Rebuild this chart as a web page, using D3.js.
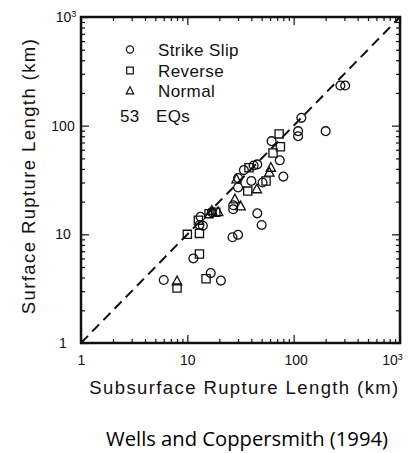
<!DOCTYPE html>
<html>
<head>
<meta charset="utf-8">
<script src="https://cdn.jsdelivr.net/npm/d3@7"></script>
<style>
  body { margin: 0; background: #fff; }
  svg { display: block; }
</style>
</head>
<body>
<svg id="chart" width="411" height="453"></svg>
<script>
// [subsurface km, surface km]
const strikeSlip = [
  [6, 3.8], [11.4, 6.0], [16.6, 4.4], [20.7, 3.75], [13, 12.2], [14, 12],
  [13.3, 14.5], [17, 16], [26.6, 9.4], [30, 9.9], [27, 18.5], [27, 17],
  [30, 27], [30, 33], [34, 39], [42, 43], [45.5, 44], [40, 31], [51, 30],
  [45.5, 15.6], [50, 12.2], [62, 72], [74, 48], [80, 34], [110, 89],
  [110, 80], [118, 118], [200, 89], [275, 234], [305, 234]
];
const reverse = [
  [8, 3.2], [15, 3.9], [13, 6.6], [10, 10], [13, 10.2], [12.7, 13.5],
  [16, 15.5], [18.5, 16], [37, 25], [55, 31], [64, 56], [75, 64], [73, 84],
  [38, 41]
];
const normal = [
  [8, 3.7], [28, 21], [31.7, 18.1], [29, 32], [45, 26], [59, 37], [61, 41],
  [19.5, 16], [17, 16.5]
];
const majorTicks = [1, 10, 100, 1000];
const minorTicks = [2,3,4,5,6,7,8,9,20,30,40,50,60,70,80,90,200,300,400,500,600,700,800,900];
const legendNames = ['Strike Slip', 'Reverse', 'Normal'];
const countLabel = ['53', 'EQs'];
const xTitle = 'Subsurface Rupture Length (km)';
const yTitle = 'Surface Rupture Length (km)';
const caption = 'Wells and Coppersmith (1994)';

const svg = d3.select('#chart');
const L = 81, R = 400, T = 17, B = 343;
const x = d3.scaleLog().domain([1, 1000]).range([L, R]);
const y = d3.scaleLog().domain([1, 1000]).range([B, T]);

const ink = '#111';
const FONT = '"Liberation Sans", Arial, sans-serif';

// 1:1 line
svg.append('line')
  .attr('x1', x(1)).attr('y1', y(1)).attr('x2', x(1000)).attr('y2', y(1000))
  .attr('stroke', ink).attr('stroke-width', 2).attr('stroke-dasharray', '10,6');

// symbols
const circlePath = r => `M${r},0A${r},${r} 0 1,1 ${-r},0A${r},${r} 0 1,1 ${r},0Z`;
const squarePath = s => `M${-s},${-s}H${s}V${s}H${-s}Z`;
const triPath = s => `M0,${-s * 1.1}L${s},${s * 0.75}L${-s},${s * 0.75}Z`;

function drawSet(data, path) {
  svg.append('g').selectAll('path').data(data).join('path')
    .attr('transform', d => `translate(${x(d[0])},${y(d[1])})`)
    .attr('d', path)
    .attr('fill', 'none').attr('stroke', ink).attr('stroke-width', 1.3);
}
drawSet(strikeSlip, circlePath(4.4));
drawSet(reverse, squarePath(4.1));
drawSet(normal, triPath(4.7));

// ticks on all four sides, pointing in
function ticks(axis, pos, vals, len) {
  const g = svg.append('g').attr('transform', pos)
    .call(axis.tickValues(vals).tickSizeInner(-len).tickSizeOuter(0).tickFormat(''));
  g.select('.domain').remove();
  g.selectAll('.tick line').attr('stroke', ink).attr('stroke-width', 1.2);
}
const sides = [
  [() => d3.axisBottom(x), `translate(0,${B})`],
  [() => d3.axisTop(x), `translate(0,${T})`],
  [() => d3.axisLeft(y), `translate(${L},0)`],
  [() => d3.axisRight(y), `translate(${R},0)`]
];
sides.forEach(([mk, p]) => {
  ticks(mk(), p, majorTicks, 8);
  ticks(mk(), p, minorTicks, 4);
});

// frame
svg.append('rect')
  .attr('x', L).attr('y', T).attr('width', R - L).attr('height', B - T)
  .attr('fill', 'none').attr('stroke', ink).attr('stroke-width', 2.5);

// tick labels
function powerLabels(g) {
  g.select('.domain').remove();
  g.selectAll('.tick text')
    .attr('font-family', FONT).attr('font-size', 14).attr('fill', ink)
    .each(function (d) {
      if (d === 1000) {
        const t = d3.select(this).text('10');
        t.append('tspan').attr('font-size', 9).attr('dy', '-0.6em').text('3');
      }
    });
}
const fmt = d => String(d);
svg.append('g').attr('transform', `translate(0,${B})`)
  .call(d3.axisBottom(x).tickValues(majorTicks).tickSize(0).tickPadding(12).tickFormat(fmt))
  .call(powerLabels)
  .call(g => g.selectAll('.tick text').attr('dx', d => d === 1000 ? -8 : (d === 100 ? 2 : 0)));
svg.append('g').attr('transform', `translate(${L},0)`)
  .call(d3.axisLeft(y).tickValues(majorTicks).tickSize(0).tickFormat(fmt))
  .call(powerLabels)
  .call(g => g.selectAll('.tick text').attr('text-anchor', 'middle').attr('x', -18)
    .attr('dx', d => d === 1000 ? 3 : 0));

// axis titles
svg.append('text')
  .attr('x', (L + R) / 2 + 4).attr('y', 394)
  .attr('text-anchor', 'middle')
  .attr('font-family', FONT).attr('font-size', 18.5).attr('letter-spacing', 1.4)
  .attr('fill', ink).text(xTitle);
svg.append('text')
  .attr('transform', `translate(35,176) rotate(-90)`)
  .attr('text-anchor', 'middle')
  .attr('font-family', FONT).attr('font-size', 18.5).attr('letter-spacing', 1.4)
  .attr('fill', ink).text(yTitle);

// legend
const legendY = [49.5, 70.5, 91];
const legendPaths = [circlePath(3.6), squarePath(3.3), triPath(3.8)];
const lg = svg.append('g');
legendNames.forEach((name, i) => {
  lg.append('path')
    .attr('transform', `translate(130,${legendY[i]})`)
    .attr('d', legendPaths[i])
    .attr('fill', 'none').attr('stroke', ink).attr('stroke-width', 1.2);
  lg.append('text')
    .attr('x', 158).attr('y', legendY[i] + 6.3)
    .attr('font-family', FONT).attr('font-size', 17).attr('letter-spacing', 0.4)
    .attr('fill', ink).text(name);
});
lg.append('text').attr('x', 120).attr('y', 122)
  .attr('font-family', FONT).attr('font-size', 17).attr('letter-spacing', 0.4)
  .attr('fill', ink).text(countLabel[0]);
lg.append('text').attr('x', 156).attr('y', 122)
  .attr('font-family', FONT).attr('font-size', 17).attr('letter-spacing', 0.4)
  .attr('fill', ink).text(countLabel[1]);

// source caption, sized to the width it spans in the figure
const cap = svg.append('text')
  .attr('x', 247).attr('y', 446)
  .attr('text-anchor', 'middle')
  .attr('font-family', '"Open Sans", "Noto Sans", sans-serif').attr('font-size', 18)
  .attr('fill', '#000').text(caption);
const capW = cap.node().getComputedTextLength();
cap.attr('font-size', 18 * 282 / capW);
</script>
</body>
</html>
